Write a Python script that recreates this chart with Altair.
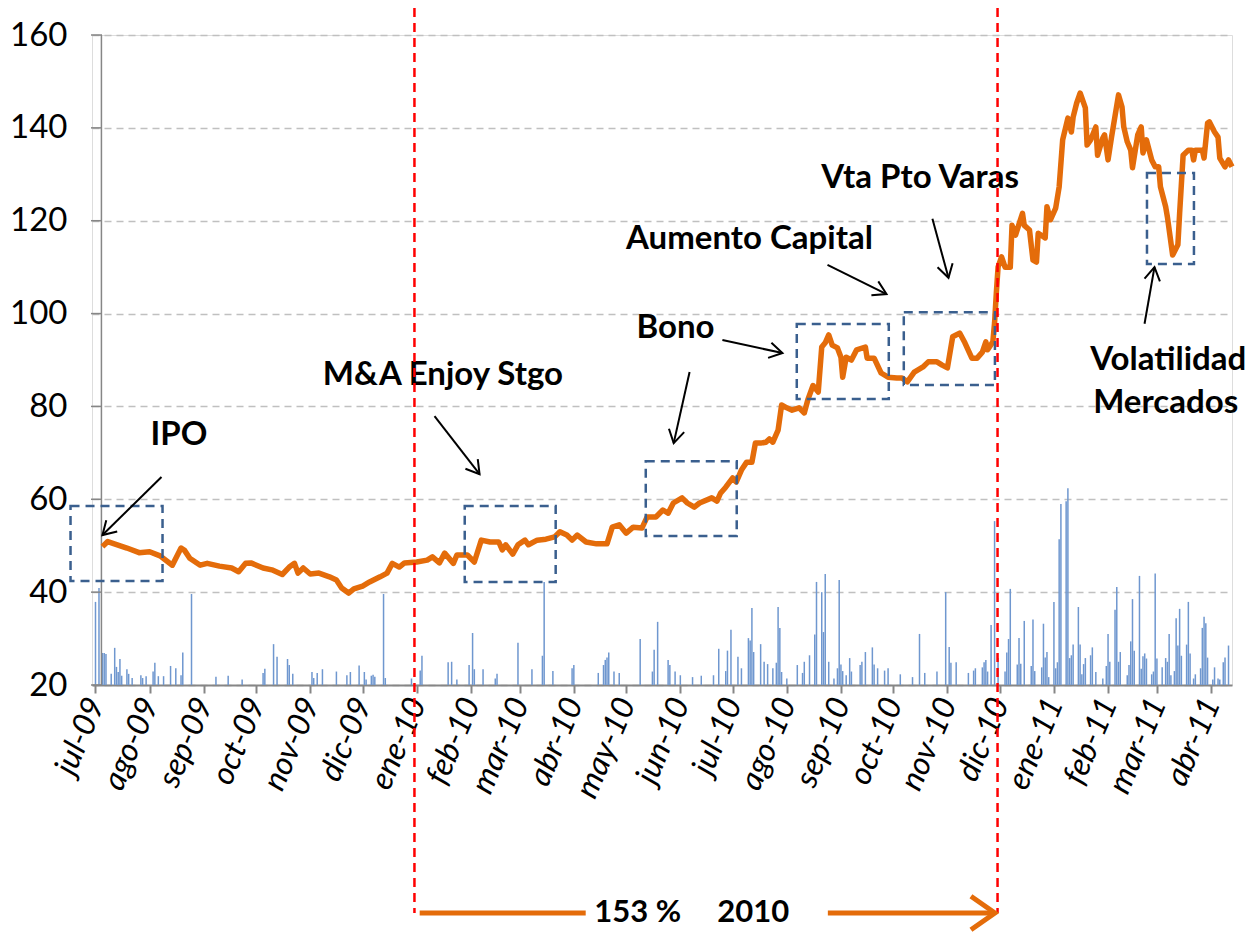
import altair as alt
import pandas as pd

T0 = pd.Timestamp("2009-07-01")

# price series: (days since 2009-07-01, price)
price = [
    (4, 49.8), (7, 50.9), (18, 49.5), (25, 48.5), (31, 48.7), (37, 47.8), (44, 45.8), (49, 49.5),
    (51, 49.0), (54, 47.3), (60, 45.8), (64, 46.2), (71, 45.6), (78, 45.2), (82, 44.4), (86, 46.2),
    (89, 46.3), (96, 45.2), (101, 44.8), (107, 43.8), (111, 45.4), (114, 46.2), (116, 44.1), (119, 45.2),
    (123, 43.9), (128, 44.1), (134, 43.3), (138, 42.6), (141, 40.9), (145, 39.8), (148, 40.7), (153, 41.3),
    (157, 42.2), (163, 43.3), (167, 44.1), (170, 46.2), (174, 45.4), (177, 46.3), (184, 46.5), (190, 46.9),
    (193, 47.6), (197, 46.3), (200, 48.4), (205, 46.2), (207, 48.0), (213, 48.0), (217, 46.5), (221, 51.2),
    (226, 50.8), (231, 50.8), (233, 49.1), (235, 50.2), (239, 48.2), (242, 50.2), (246, 51.2), (248, 50.2),
    (253, 51.2), (258, 51.4), (263, 51.9), (266, 53.0), (270, 52.3), (273, 51.2), (276, 52.3), (281, 50.8),
    (287, 50.4), (293, 50.4), (296, 54.0), (300, 54.5), (304, 52.7), (308, 54.0), (313, 53.8), (316, 56.2),
    (321, 56.2), (325, 57.7), (328, 57.0), (331, 59.2), (336, 60.3), (339, 59.2), (343, 58.3), (346, 59.2),
    (353, 60.3), (356, 59.6), (358, 61.3), (361, 62.6), (365, 64.6), (367, 63.7), (370, 66.3), (373, 68.0),
    (376, 68.0), (378, 72.1), (381, 72.1), (384, 72.3), (386, 73.0), (388, 72.3), (391, 74.9), (393, 80.3),
    (396, 79.7), (399, 79.2), (403, 79.7), (406, 78.6), (408, 81.4), (411, 84.5), (414, 83.1), (416, 92.8),
    (418, 93.7), (420, 95.4), (422, 93.2), (425, 92.6), (427, 90.6), (428, 86.3), (430, 90.6), (433, 90.0),
    (436, 92.2), (441, 92.8), (442, 90.4), (446, 90.4), (450, 87.2), (454, 86.3), (459, 86.1), (462, 86.1),
    (465, 85.3), (469, 87.4), (474, 88.5), (477, 89.6), (482, 89.6), (485, 88.9), (488, 88.3), (491, 95.0),
    (495, 95.8), (498, 93.7), (502, 90.4), (505, 90.4), (508, 91.7), (510, 93.9), (511, 92.2), (514, 93.9),
    (515, 98.0), (516, 104.4), (517, 110.0), (519, 112.2), (521, 110.0), (524, 110.0), (525, 119.0), (527, 116.9),
    (531, 121.6), (532, 119.0), (535, 118.0), (537, 111.5), (539, 111.1), (540, 117.3), (544, 116.3), (545, 123.0),
    (547, 120.2), (550, 122.7), (552, 127.3), (554, 137.4), (557, 142.1), (559, 139.1), (560, 142.3), (562, 145.3),
    (564, 147.5), (567, 144.3), (568, 136.3), (570, 137.4), (573, 140.2), (574, 134.1), (577, 137.8), (578, 138.5),
    (580, 133.1), (582, 138.0), (586, 147.1), (588, 144.5), (589, 140.2), (591, 137.0), (593, 135.2), (594, 131.4),
    (597, 138.5), (599, 140.2), (600, 134.6), (602, 137.4), (605, 133.1), (607, 131.6), (609, 131.6), (610, 127.3),
    (613, 123.0), (614, 120.8), (617, 112.6), (620, 114.8), (621, 121.6), (623, 134.1), (626, 135.2), (628, 135.2),
    (629, 133.1), (630, 135.2), (634, 135.2), (635, 133.5), (637, 141.0), (638, 141.3), (641, 139.1), (643, 138.0),
    (644, 133.5), (647, 131.6), (649, 133.1), (651, 131.6),
]

# volume bars (days since 2009-07-01, top of bar on the price scale)
volume = [
    (0, 37.9), (2, 40.9), (4, 26.9), (5, 26.9), (6, 26.7), (9, 22.4), (11, 28.0), (12, 23.9), (13, 22.8),
    (14, 25.6), (15, 22.0), (18, 23.4), (19, 22.4), (21, 21.5), (26, 22.1), (27, 21.5), (29, 21.9), (33, 22.9),
    (34, 24.8), (36, 21.9), (39, 21.9), (43, 24.1), (46, 23.6), (49, 22.1), (50, 27.0), (55, 39.6), (69, 21.8),
    (76, 22.0), (84, 21.2), (96, 22.6), (97, 23.5), (102, 28.8), (104, 26.1), (110, 25.6), (111, 24.3), (113, 22.4),
    (124, 22.8), (125, 21.5), (127, 22.6), (130, 23.4), (138, 22.9), (144, 22.1), (146, 22.8), (151, 24.2),
    (154, 22.8), (155, 21.2), (158, 22.0), (159, 22.2), (160, 21.8), (165, 39.6), (166, 21.5), (181, 21.4),
    (186, 23.1), (187, 26.3), (202, 24.9), (204, 25.0), (207, 21.2), (214, 24.3), (216, 31.2), (217, 23.4),
    (222, 23.4), (229, 21.4), (230, 22.4), (242, 29.1), (250, 23.4), (256, 26.3), (257, 42.2), (262, 23.0),
    (273, 23.6), (274, 24.3), (288, 22.6), (291, 24.3), (292, 25.4), (293, 25.9), (294, 27.0), (297, 22.9),
    (300, 22.6), (312, 29.9), (319, 22.9), (320, 27.6), (322, 33.6), (328, 25.4), (329, 24.3), (332, 22.9),
    (335, 22.1), (342, 21.7), (347, 22.0), (354, 22.1), (357, 27.8), (361, 23.0), (362, 27.4), (364, 31.9),
    (368, 26.1), (370, 23.6), (374, 30.1), (375, 29.6), (376, 36.6), (377, 27.1), (381, 28.8), (383, 25.0),
    (385, 24.5), (388, 23.6), (390, 24.8), (391, 36.8), (392, 32.3), (393, 22.8), (396, 21.4), (402, 24.3),
    (405, 22.6), (406, 25.0), (409, 26.4), (412, 30.9), (413, 42.2), (416, 40.0), (417, 31.4), (418, 43.9),
    (420, 25.0), (423, 21.4), (425, 23.6), (426, 42.6), (427, 24.4), (428, 23.0), (430, 22.1), (432, 25.8),
    (433, 22.9), (438, 24.3), (439, 25.0), (441, 27.1), (445, 28.1), (446, 24.4), (448, 23.6), (452, 23.1),
    (454, 23.6), (461, 22.3), (468, 21.7), (472, 31.0), (475, 22.6), (482, 22.9), (487, 40.0), (489, 28.2),
    (490, 24.8), (493, 24.9), (500, 22.6), (503, 23.1), (504, 23.6), (508, 23.8), (509, 24.9), (510, 25.4),
    (511, 22.9), (513, 32.9), (515, 55.3), (517, 25.8), (521, 22.9), (522, 27.0), (523, 29.9), (524, 40.7),
    (528, 24.4), (529, 30.1), (530, 24.6), (532, 33.8), (536, 24.1), (537, 34.1), (538, 23.0), (542, 23.8),
    (543, 33.2), (544, 25.9), (545, 27.1), (546, 21.7), (549, 37.9), (550, 23.6), (551, 24.9), (552, 51.4),
    (553, 59.0), (556, 59.6), (557, 62.4), (558, 25.8), (559, 26.4), (560, 28.7), (563, 36.8), (564, 28.7),
    (565, 22.3), (566, 24.5), (567, 25.8), (570, 26.4), (571, 28.1), (573, 22.8), (577, 21.4), (579, 24.1),
    (580, 31.0), (581, 25.0), (584, 36.2), (585, 41.1), (586, 25.0), (587, 27.1), (591, 22.1), (592, 24.3),
    (593, 29.4), (594, 38.5), (595, 27.4), (598, 43.5), (599, 23.5), (600, 26.2), (601, 26.8), (602, 25.7),
    (605, 22.3), (606, 22.9), (607, 44.0), (608, 25.7), (611, 23.8), (613, 25.8), (614, 25.0), (615, 31.0),
    (616, 22.1), (618, 23.0), (619, 34.4), (620, 28.5), (621, 36.4), (622, 26.3), (625, 28.7), (626, 37.9),
    (627, 26.8), (629, 21.4), (630, 22.3), (633, 23.6), (634, 32.3), (635, 34.7), (636, 33.3), (637, 25.9),
    (640, 21.2), (641, 23.8), (643, 21.4), (644, 21.2), (646, 24.9), (647, 25.9), (649, 28.5),
]

# highlight boxes: (day_start, day_end, low, high)
boxes = [
    (-14.3, 38.4, 42.4, 58.55),
    (211.5, 263.6, 42.2, 58.55),
    (315.2, 367.3, 52.1, 68.2),
    (401.7, 454.4, 81.6, 97.75),
    (463.0, 515.2, 84.6, 100.3),
    (602.3, 629.2, 110.7, 130.3),
]

# annotation labels: (text, center day, baseline value)
labels = [
    ("IPO", 47.8, 71.7),
    ("M&A Enjoy Stgo", 199.0, 84.6),
    ("Bono", 332.2, 94.7),
    ("Aumento Capital", 374.6, 113.9),
    ("Vta Pto Varas", 472.3, 127.0),
    ("Volatilidad", 614.5, 87.8),
    ("Mercados", 613.0, 78.6),
]

# arrows: (day_from, value_from, day_to, value_to, screen angle of head)
arrows = [
    (37.8, 64.8, 4.0, 52.3, 135.5),
    (194.2, 77.9, 220.0, 65.4, 52.2),
    (340.3, 87.4, 331.2, 72.1, 102.7),
    (359.1, 94.3, 393.5, 91.5, 12.2),
    (419.3, 110.5, 453.1, 104.2, 26.2),
    (479.4, 120.4, 488.6, 107.7, 74.8),
    (600.9, 97.8, 606.6, 110.0, 280.0),
]

period_limits = [182.7, 516.7]          # red dashed lines (days)
period_arrow = [(185.7, 280.8), (419.5, 515.2)]
period_text = [("153 %", 310.6), ("2010", 376.8)]

y_ticks = [20, 40, 60, 80, 100, 120, 140, 160]
month_ticks = [(2009, m) for m in range(7, 13)] + [(2010, m) for m in range(1, 13)] + [(2011, m) for m in range(1, 5)]
y_axis_day = 3.4

ORANGE = "#e46c0a"
BOXBLUE = "#3a5f8e"
FONT = "Lato"
BOTTOM_Y = 878


def to_date(days):
    return T0 + pd.to_timedelta(pd.Series(days, dtype=float), unit="D")


price_df = pd.DataFrame(price, columns=["day", "precio"])
price_df["fecha"] = to_date(price_df["day"])

vol_df = pd.DataFrame(volume, columns=["day", "vol"])
vol_df["fecha"] = to_date(vol_df["day"])

box_df = pd.DataFrame(boxes, columns=["d0", "d1", "lo", "hi"])
box_df["fecha"] = to_date(box_df["d0"])
box_df["fecha2"] = to_date(box_df["d1"]).values

lab_df = pd.DataFrame(labels, columns=["txt", "day", "val"])
lab_df["fecha"] = to_date(lab_df["day"])

arr_df = pd.DataFrame(arrows, columns=["d0", "v0", "d1", "v1", "ang"])
arr_df["fecha"] = to_date(arr_df["d0"])
arr_df["fecha2"] = to_date(arr_df["d1"]).values

red_df = pd.DataFrame({"fecha": to_date(period_limits)})
pa_df = pd.DataFrame(period_arrow, columns=["d0", "d1"])
pa_df["fecha"] = to_date(pa_df["d0"])
pa_df["fecha2"] = to_date(pa_df["d1"]).values
head_df = pd.DataFrame({"fecha": to_date([period_arrow[-1][1]]), "ang": [0]})
pt_df = pd.DataFrame(period_text, columns=["txt", "day"])
pt_df["fecha"] = to_date(pt_df["day"])

ytick_df = pd.DataFrame({"v": y_ticks})
yaxis_df = pd.DataFrame({"fecha": to_date([y_axis_day])})

xscale = alt.Scale(domain=[alt.DateTime(year=2009, month=6, date=29),
                           alt.DateTime(year=2011, month=4, date=13)])
yscale = alt.Scale(domain=[20, 160], nice=False, zero=False)


def X(field):
    return alt.X(field, type="temporal", scale=xscale, title=None)


def Y(field):
    return alt.Y(field, type="quantitative", scale=yscale, title=None)


mes_expr = ("['ene','feb','mar','abr','may','jun','jul','ago','sep','oct','nov','dic'][month(datum.value)]"
            " + '-' + timeFormat(datum.value, '%y')")

x_axis = alt.Axis(
    values=[alt.DateTime(year=y, month=m, date=1) for y, m in month_ticks],
    labelExpr=mes_expr, labelAngle=293, labelAlign="right", labelBaseline="middle",
    labelFont=FONT, labelFontStyle="italic", labelFontSize=32, labelColor="black",
    labelPadding=6, labelOverlap=False, labelFlush=False,
    tickSize=8, tickWidth=2, tickColor="#868686",
    domainColor="#868686", domainWidth=2, grid=False,
)
y_axis = alt.Axis(
    values=y_ticks, grid=True, gridDash=[7, 5], gridColor="#c0c0c0", gridWidth=1.5,
    domain=False, ticks=False, labelFont=FONT, labelFontSize=33, labelColor="black",
    labelPadding=25,
)

base_axes = alt.Chart(ytick_df).mark_rule(opacity=0).encode(
    x=alt.X("fecha:T", scale=xscale, title=None, axis=x_axis),
    y=alt.Y("v:Q", scale=yscale, title=None, axis=y_axis),
).transform_calculate(fecha="datetime(2010, 0, 1)")

y_tickmarks = alt.Chart(ytick_df).mark_rule(color="#868686", strokeWidth=1.5).encode(
    y=Y("v"), x=alt.value(-1), x2=alt.value(10)
)
y_axis_line = alt.Chart(yaxis_df).mark_rule(color="#868686", strokeWidth=1.5).encode(
    x=X("fecha"), y=alt.value(0), y2=alt.value(650)
)

bars = alt.Chart(vol_df).mark_rule(color="#6f97cf", strokeWidth=1.5).encode(
    x=X("fecha"), y=Y("vol"), y2=alt.datum(20)
)

line = alt.Chart(price_df).mark_line(color=ORANGE, strokeWidth=5.5, strokeJoin="round").encode(
    x=X("fecha"), y=Y("precio")
)

rects = alt.Chart(box_df).mark_rect(filled=False, stroke=BOXBLUE, strokeWidth=2.5, strokeDash=[9, 6]).encode(
    x=X("fecha"), x2="fecha2:T", y=Y("lo"), y2="hi:Q"
)

arrow_lines = alt.Chart(arr_df).mark_rule(color="black", strokeWidth=2).encode(
    x=X("fecha"), x2="fecha2:T", y=Y("v0"), y2="v1:Q"
)
arrow_heads = alt.Chart(arr_df).mark_point(
    shape="M -1 -0.6 L 0 0 L -1 0.6", filled=False, stroke="black", strokeWidth=2, size=676, opacity=1
).encode(x=X("fecha2"), y=Y("v1"), angle=alt.Angle("ang:Q", scale=None))

texts = alt.Chart(lab_df).mark_text(
    font=FONT, fontWeight="bold", fontSize=33, color="black", align="center", baseline="alphabetic"
).encode(x=X("fecha"), y=Y("val"), text="txt:N")

red_lines = alt.Chart(red_df).mark_rule(color="#ff0000", strokeWidth=2.5, strokeDash=[9, 6]).encode(
    x=X("fecha"), y=alt.value(-27), y2=alt.value(BOTTOM_Y)
)

period_lines = alt.Chart(pa_df).mark_rule(color=ORANGE, strokeWidth=5).encode(
    x=X("fecha"), x2="fecha2:T", y=alt.value(BOTTOM_Y)
)
period_head = alt.Chart(head_df).mark_point(
    shape="M -1 -0.7 L 0 0 L -1 0.7", filled=False, stroke=ORANGE, strokeWidth=5, size=2300, opacity=1
).encode(x=X("fecha"), y=alt.value(BOTTOM_Y), angle=alt.Angle("ang:Q", scale=None))
period_txt = alt.Chart(pt_df).mark_text(
    font=FONT, fontWeight="bold", fontSize=31, color="black", align="center", baseline="middle"
).encode(x=X("fecha"), y=alt.value(BOTTOM_Y), text="txt:N")

chart = alt.layer(
    base_axes, bars, y_axis_line, y_tickmarks, line, rects, arrow_lines, arrow_heads, texts,
    red_lines, period_lines, period_head, period_txt,
).properties(
    width=1140, height=650,
    autosize=alt.AutoSizeParams(type="none"),
    padding={"left": 84, "top": 27, "right": 18, "bottom": 248},
).configure_view(stroke=None).configure(background="white")

chart.save("out.html", embed_options={"renderer": "svg", "actions": False})
